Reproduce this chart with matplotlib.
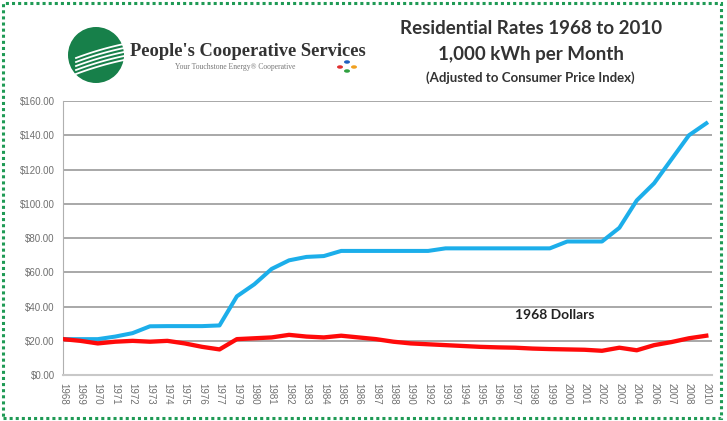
import matplotlib.pyplot as plt
import matplotlib.patches as mpatches
import numpy as np

# category labels (rate change points)
years = ["1968", "1969", "1970", "1971", "1972", "1973", "1974", "1975", "1976", "1977",
         "1979", "1980", "1981", "1982", "1983", "1984", "1985", "1986", "1987", "1988",
         "1990", "1992", "1993", "1994", "1995", "1996", "1997", "1998", "1999", "2000",
         "2001", "2002", "2003", "2004", "2006", "2007", "2008", "2010"]

# nominal rate, 1,000 kWh per month
nominal = [21, 21, 21, 22.5, 24.5, 28.5, 28.6, 28.6, 28.6, 29,
           46, 53, 62, 67, 69, 69.5, 72.5, 72.5, 72.5, 72.5,
           72.5, 72.5, 74, 74, 74, 74, 74, 74, 74, 78,
           78, 78, 86, 102, 112, 126, 140, 147]

# adjusted to 1968 dollars
dollars_1968 = [21, 20, 18.5, 19.5, 20, 19.5, 20, 18.5, 16.5, 15,
                21, 21.5, 22, 23.5, 22.5, 22, 23, 22, 21, 19.5,
                18.5, 18, 17.5, 17, 16.5, 16.2, 16, 15.5, 15.2, 15,
                14.8, 14.2, 16, 14.5, 17.5, 19.3, 21.5, 23]

yticks = [0, 20, 40, 60, 80, 100, 120, 140, 160]

fig = plt.figure(figsize=(7.27, 4.21), dpi=100)
fig.patch.set_facecolor("white")

ax = fig.add_axes([0.0867, 0.109, 0.892, 0.651])
x = np.arange(len(years))
ax.plot(x, nominal, color="#1caeea", lw=2.9, solid_joinstyle="round", zorder=3)
ax.plot(x, dollars_1968, color="#ff0a0a", lw=3.1, solid_joinstyle="round", zorder=3)

ax.set_ylim(0, 160)
ax.set_xlim(0, len(years) - 1 + 0.3)
ax.set_yticks(yticks)
ax.set_yticklabels(["$%d.00" % v for v in yticks], fontsize=7, color="#707070",
                   family="Liberation Sans")
ax.set_xticks(x)
ax.set_xticklabels(years, rotation=-90, fontsize=7, color="#707070",
                   family="Liberation Sans")
ax.tick_params(length=0, pad=6)
ax.yaxis.grid(True, color="#a8a8a8", lw=1.4)
ax.set_axisbelow(True)
for s in ["top", "right"]:
    ax.spines[s].set_visible(False)
ax.spines["left"].set_color("#b0b0b0")
ax.spines["bottom"].set_color("#c8c8c8")
ax.spines["bottom"].set_linewidth(1.5)

ax.text(28.3, 35, "1968 Dollars", fontsize=10, fontweight="bold", color="#222222",
        family="Lato", ha="center", va="center")

# titles
fig.text(0.730, 0.933, "Residential Rates 1968 to 2010", fontsize=13.5, fontweight="bold",
         color="#333333", family="Lato", ha="center", va="center")
fig.text(0.730, 0.870, "1,000 kWh per Month", fontsize=13.5, fontweight="bold",
         color="#333333", family="Lato", ha="center", va="center")
fig.text(0.730, 0.815, "(Adjusted to Consumer Price Index)", fontsize=9.5, fontweight="bold",
         color="#333333", family="Lato", ha="center", va="center")

# logo
W, H = 727, 421
circ = mpatches.Ellipse((96 / W, 1 - 55 / H), 56 / W, 56 / H, transform=fig.transFigure,
                        facecolor="#17804a", edgecolor="none")
fig.add_artist(circ)
for k in range(5):
    t = np.linspace(0, 1, 30)
    xs = (76 + 48 * t) / W
    ys = 1 - (58 + k * 4 - 18 * t + 4 * t ** 2) / H
    fig.add_artist(plt.Line2D(xs, ys, transform=fig.transFigure, color="white", lw=1.3))
fig.text(130 / W, 1 - 51 / H, "People's Cooperative Services", fontsize=13.3,
         family="Liberation Serif", fontweight="bold", color="#333333", va="center")
fig.text(175 / W, 1 - 67 / H, "Your Touchstone Energy\u00ae Cooperative", fontsize=5.5,
         family="Liberation Serif", color="#777777", va="center")
for cx, cy, c in [(340, 67, "#e03030"), (347, 62, "#2060c0"), (354, 67, "#f0a020"),
                  (347, 71, "#30a040")]:
    fig.add_artist(mpatches.Circle((cx / W, 1 - cy / H), 3 / W, transform=fig.transFigure,
                                   facecolor=c, edgecolor="none"))

# dotted green border
fig.add_artist(mpatches.Rectangle((3 / W, 3 / H), 718 / W, 415 / H, transform=fig.transFigure,
                                  fill=False, edgecolor="#1f9a55", lw=2.2,
                                  linestyle=(0, (1, 1))))

fig.savefig("out.png", dpi=100)
